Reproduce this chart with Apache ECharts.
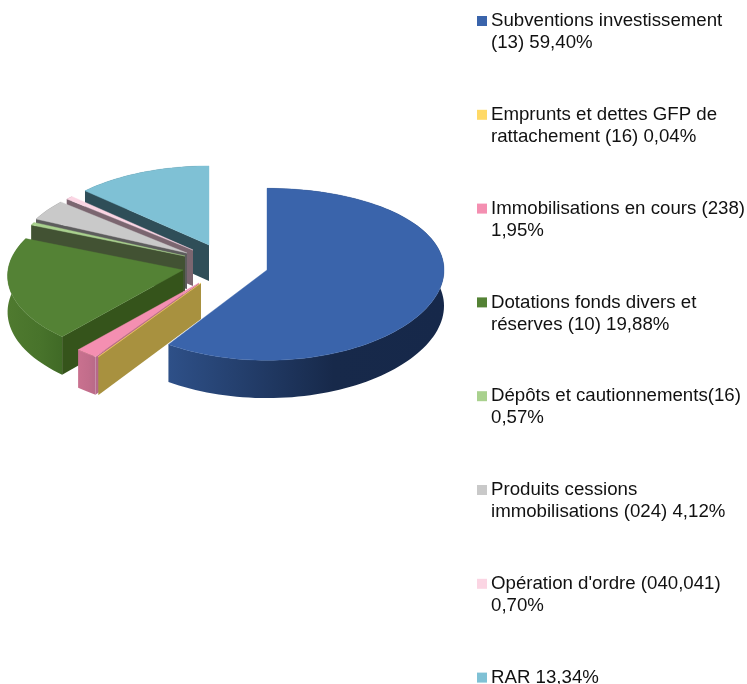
<!DOCTYPE html>
<html>
<head>
<meta charset="utf-8">
<style>html,body{margin:0;padding:0;background:#fff}#c{width:747px;height:684px}</style>
<script src="https://cdn.jsdelivr.net/npm/echarts@6/dist/echarts.min.js"></script>
</head>
<body>
<div id="c"></div>
<script>
var labels = [
  'Subventions investissement\n(13) 59,40%',
  'Emprunts et dettes GFP de\nrattachement (16) 0,04%',
  'Immobilisations en cours (238)\n1,95%',
  'Dotations fonds divers et\nréserves (10) 19,88%',
  'Dépôts et cautionnements(16)\n0,57%',
  'Produits cessions\nimmobilisations (024) 4,12%',
  "Opération d'ordre (040,041)\n0,70%",
  'RAR 13,34%\n '
];
var shares = [59.40, 0.04, 1.95, 19.88, 0.57, 4.12, 0.70, 13.34];

var topColors = ['#3a64ab', '#ffd966', '#f48fb1', '#548235', '#a9d18e', '#c9c9c9', '#fbd5e3', '#7fc1d5'];
var cutColors = ['#2e5088', '#a8913f', '#b5688a', '#35541b', '#425233', '#5c5c5c', '#7b6670', '#2f4e58'];
var rimColors = [
  ['#2e5088', '#17294a', '#16284a'],
  ['#a8913f', '#a8913f', '#a8913f'],
  ['#c9718f', '#c26d8b', '#b86a88'],
  ['#4f7a2f', '#48732b', '#406a26'],
  ['#5f7f4d', '#5f7f4d', '#5f7f4d'],
  ['#6a6a6a', '#6a6a6a', '#6a6a6a'],
  ['#a08a94', '#a08a94', '#a08a94'],
  ['#3f6a78', '#3f6a78', '#3f6a78']
];
var paintOrder = [7, 6, 5, 4, 3, 2, 1, 0];

// Each exploded slice has its own apex on the page
var apexX = [267, 201, 199, 183, 185, 187, 193, 209];
var apexY = [270, 283, 283, 270, 256, 253, 250, 245];
var radiusX = [177, 174, 175, 175, 171, 171, 171, 175];
var radiusY = [86, 84, 84, 84, 83, 84, 84, 85];
var perspectiveX = [0, 0.07, 0.07, 0.07, 0.07, 0.07, 0.07, 0.07];
var perspectiveY = [0.05, 0.07, 0.07, 0.07, 0.07, 0.07, 0.07, 0.07];
var depth = 36;

function rimPoint(i, deg) {
  var t = deg * Math.PI / 180, c = Math.cos(t);
  var sx = 1 - perspectiveX[i] * c, sy = 1 - perspectiveY[i] * c;
  return [
    apexX[i] + radiusX[i] * Math.sin(t) * sx,
    apexY[i] - radiusY[i] * c * sy,
    depth * sy
  ];
}

function sliceRenderer(i) {
  return function (params, api) {
    var before = 0;
    for (var j = 0; j < i; j++) before += shares[j];
    var from = before * 3.6, to = from + api.value(0) * 3.6;
    var rim = [], n = Math.max(2, Math.ceil((to - from) / 2));
    for (var k = 0; k <= n; k++) rim.push(rimPoint(i, from + (to - from) * k / n));
    var ax = apexX[i], ay = apexY[i];
    var topPts = [[ax, ay]].concat(rim.map(function (p) { return [p[0], p[1]]; }));
    var rimPts = rim.map(function (p) { return [p[0], p[1]]; })
      .concat(rim.slice().reverse().map(function (p) { return [p[0], p[1] + p[2]]; }));
    var first = rim[0];
    var cutPts = [[ax, ay], [first[0], first[1]], [first[0], first[1] + first[2]], [ax, ay + depth]];
    var c = rimColors[i];
    return {
      type: 'group',
      children: [
        { type: 'polygon', shape: { points: rimPts },
          style: { fill: new echarts.graphic.LinearGradient(0, 0, 1, 0, [
            { offset: 0, color: c[0] }, { offset: 0.6, color: c[1] }, { offset: 1, color: c[2] }
          ]) } },
        { type: 'polygon', shape: { points: cutPts }, style: { fill: cutColors[i] } },
        { type: 'polygon', shape: { points: topPts }, style: { fill: topColors[i], stroke: topColors[i], lineWidth: 0.4 } }
      ]
    };
  };
}

var series = labels.map(function (name, i) {
  return {
    type: 'custom',
    name: name,
    coordinateSystem: 'none',
    z: 2 + paintOrder[i],
    silent: true,
    itemStyle: { color: topColors[i] },
    data: [[shares[i]]],
    renderItem: sliceRenderer(i)
  };
});

var chart = echarts.init(document.getElementById('c'), null, { renderer: 'canvas' });
chart.setOption({
  animation: false,
  backgroundColor: '#ffffff',
  legend: {
    data: labels,
    orient: 'vertical',
    left: 477,
    top: 10,
    height: 760,
    padding: 0,
    itemWidth: 10,
    itemHeight: 44,
    itemGap: 49.8,
    selectedMode: false,
    icon: 'path://M0 6H10V16H0Z M0 0L0 0 M0 44L0 44',
    textStyle: { fontFamily: 'Liberation Sans', fontSize: 18.67, lineHeight: 22, color: '#111111', padding: [0, 0, 0, -1] }
  },
  series: series
});
</script>
</body>
</html>
